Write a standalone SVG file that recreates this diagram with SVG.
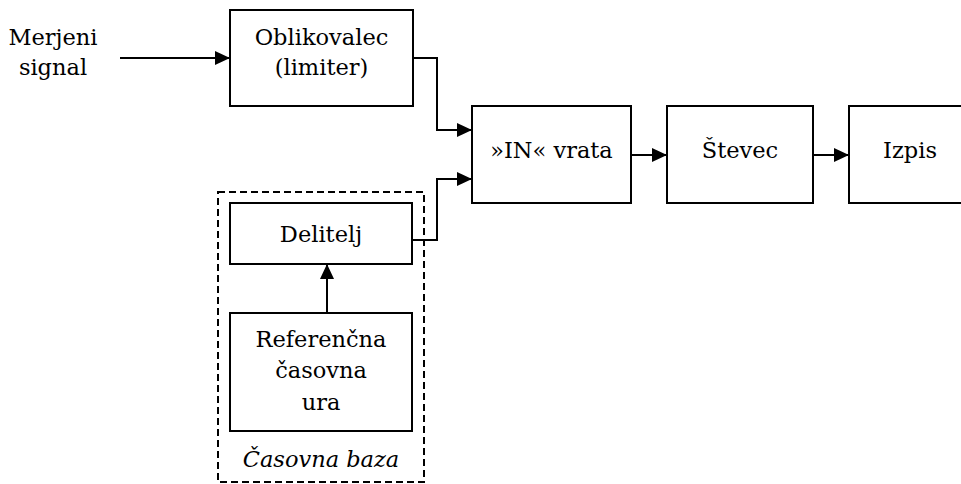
<svg xmlns="http://www.w3.org/2000/svg" width="961" height="484" viewBox="0 0 961 484">
<defs>
<marker id="arr" markerWidth="15" markerHeight="14" refX="15" refY="7" orient="auto" markerUnits="userSpaceOnUse">
<path d="M0,0 L15,7 L0,14 Z" fill="#000"/>
</marker>
<style>
.box{fill:#fff;stroke:#000;stroke-width:2}
.t{font-family:"DejaVu Serif",serif;font-size:22.5px;fill:#000;text-anchor:middle}
.c{fill:none;stroke:#000;stroke-width:2}
</style>
</defs>
<rect width="961" height="484" fill="#fff"/>
<g id="casovna-baza">
<rect x="218" y="192" width="206" height="290" fill="none" stroke="#000" stroke-width="2" stroke-dasharray="7,4"/>
<text class="t" x="321" y="467" font-style="italic">Časovna baza</text>
</g>
<g id="input-label">
<text class="t" x="53" y="45">Merjeni</text>
<text class="t" x="53" y="75">signal</text>
</g>
<g id="oblikovalec">
<rect class="box" x="230" y="10" width="183" height="96"/>
<text class="t" x="321.5" y="45">Oblikovalec</text>
<text class="t" x="321.5" y="75">(limiter)</text>
</g>
<g id="in-vrata">
<rect class="box" x="472" y="106" width="159" height="97"/>
<text class="t" x="551.5" y="158">»IN« vrata</text>
</g>
<g id="stevec">
<rect class="box" x="667" y="106" width="146" height="97"/>
<text class="t" x="740" y="158">Števec</text>
</g>
<g id="izpis">
<rect class="box" x="849" y="106" width="124" height="97"/>
<text class="t" x="910" y="158">Izpis</text>
</g>
<g id="delitelj">
<rect class="box" x="230" y="203" width="182" height="61"/>
<text class="t" x="321" y="242">Delitelj</text>
</g>
<g id="referencna-ura">
<rect class="box" x="230" y="313" width="182" height="118"/>
<text class="t" x="321" y="347">Referenčna</text>
<text class="t" x="321" y="378">časovna</text>
<text class="t" x="321" y="410">ura</text>
</g>
<g id="connectors">
<path class="c" d="M120,58 H230" marker-end="url(#arr)"/>
<path class="c" d="M413,58 H437 V130 H472" marker-end="url(#arr)"/>
<path class="c" d="M412,240 H437 V179 H472" marker-end="url(#arr)"/>
<path class="c" d="M631,155 H667" marker-end="url(#arr)"/>
<path class="c" d="M813,155 H849" marker-end="url(#arr)"/>
<path class="c" d="M327,313 V264" marker-end="url(#arr)"/>
</g>
</svg>
